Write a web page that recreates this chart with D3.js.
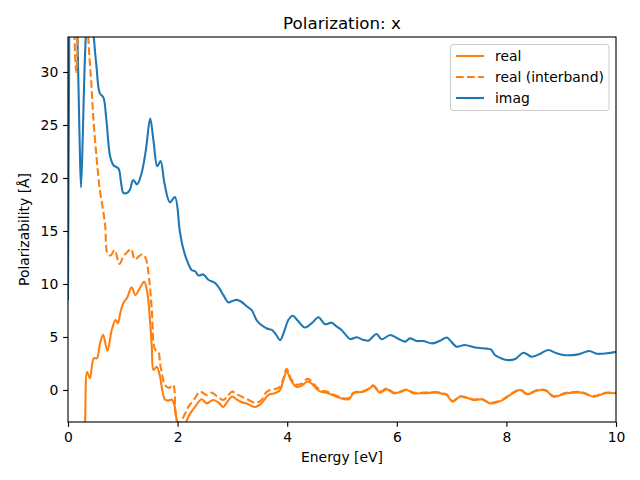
<!DOCTYPE html>
<html><head><meta charset="utf-8">
<script src="https://cdn.jsdelivr.net/npm/d3@7/dist/d3.min.js"></script>
<style>body{margin:0;background:#fff;}svg{display:block;font-family:"DejaVu Sans",sans-serif;}</style>
</head><body><svg id="c" width="640" height="480"></svg>
<script>
const xTicks = [0, 2, 4, 6, 8, 10];
const yTicks = [0, 5, 10, 15, 20, 25, 30];
const seriesNames = ["real", "real (interband)", "imag"];

const imagX = [0, 0.02, 0.05, 0.12, 0.17, 0.21, 0.237, 0.27, 0.30, 0.34, 0.40, 0.46, 0.52, 0.58, 0.645, 0.70, 0.77, 0.83, 0.92, 0.97, 1.01, 1.08, 1.13, 1.19, 1.26, 1.34, 1.42, 1.50, 1.56, 1.63, 1.69, 1.76, 1.86, 1.95, 2.04, 2.10, 2.18, 2.26, 2.32, 2.38, 2.47, 2.56, 2.68, 2.76, 2.83, 2.93, 3.00, 3.08, 3.17, 3.26, 3.35, 3.44, 3.50, 3.63, 3.72, 3.80, 3.87, 3.95, 4.02, 4.10, 4.20, 4.32, 4.45, 4.57, 4.69, 4.81, 4.90, 4.99, 5.07, 5.15, 5.27, 5.38, 5.48, 5.63, 5.72, 5.88, 6.00, 6.15, 6.24, 6.36, 6.48, 6.65, 6.79, 6.91, 6.97, 7.09, 7.24, 7.43, 7.64, 7.72, 7.79, 7.90, 8.00, 8.16, 8.31, 8.46, 8.61, 8.76, 8.90, 9.04, 9.31, 9.51, 9.65, 9.83, 10.0];
const imagY = [8.5, 30, 45, 48, 34, 24, 19.1, 24, 30, 35, 39, 34, 30.5, 28.0, 27.6, 25.5, 22.0, 21.2, 20.9, 19.5, 18.6, 18.6, 18.9, 19.8, 19.4, 20.4, 22.6, 25.6, 23.5, 21.1, 21.6, 19.5, 17.7, 18.2, 15.0, 13.4, 12.1, 11.3, 11.2, 10.8, 10.9, 10.4, 10.1, 9.6, 9.0, 8.25, 8.4, 8.5, 8.3, 7.9, 7.55, 6.6, 6.25, 5.8, 5.66, 5.2, 4.7, 5.6, 6.6, 7.0, 6.5, 5.9, 6.3, 6.86, 6.2, 6.35, 6.0, 5.66, 5.2, 4.8, 4.97, 4.75, 4.65, 5.28, 4.78, 5.19, 4.9, 4.56, 4.87, 4.62, 4.62, 4.4, 4.65, 4.95, 4.7, 4.09, 4.25, 4.0, 3.9, 3.8, 3.3, 3.0, 2.83, 2.92, 3.52, 3.14, 3.4, 3.77, 3.5, 3.3, 3.36, 3.68, 3.42, 3.46, 3.6];

const realX = [0.26, 0.31, 0.35, 0.40, 0.47, 0.53, 0.58, 0.64, 0.72, 0.80, 0.87, 0.91, 0.96, 1.02, 1.08, 1.16, 1.23, 1.31, 1.39, 1.45, 1.50, 1.53, 1.56, 1.62, 1.68, 1.72, 1.77, 1.83, 1.89, 1.94, 1.99, 2.06, 2.13, 2.22, 2.32, 2.44, 2.53, 2.65, 2.75, 2.83, 2.91, 2.99, 3.08, 3.17, 3.27, 3.41, 3.52, 3.66, 3.78, 3.87, 3.93, 3.99, 4.08, 4.17, 4.26, 4.37, 4.45, 4.54, 4.63, 4.72, 4.81, 4.90, 5.05, 5.13, 5.21, 5.39, 5.48, 5.57, 5.69, 5.82, 5.94, 6.06, 6.18, 6.30, 6.50, 6.73, 6.85, 6.91, 7.02, 7.15, 7.28, 7.40, 7.55, 7.70, 7.91, 8.07, 8.25, 8.38, 8.55, 8.72, 8.86, 9.10, 9.37, 9.59, 9.80, 10.0];
const realY = [-12, -3.5, 1.7, 1.1, 3.0, 3.0, 4.3, 5.2, 3.7, 5.7, 6.6, 6.3, 7.4, 8.3, 8.7, 9.7, 8.96, 9.6, 10.2, 9.1, 6.3, 4.0, 1.9, 2.2, 1.25, 0.0, -0.9, -1.0, -0.9, -1.4, -3.0, -4.0, -3.3, -2.3, -1.57, -0.88, -1.26, -0.94, -1.2, -1.6, -1.1, -0.63, -0.9, -1.16, -1.3, -1.6, -1.3, -0.47, -0.3, 0.0, 0.9, 1.73, 0.8, 0.3, 0.4, 0.8, 0.6, 0.07, -0.2, -0.25, -0.45, -0.63, -0.88, -0.85, -0.31, -0.16, 0.05, 0.38, -0.25, 0.07, -0.31, -0.2, 0.0, -0.3, -0.3, -0.25, -0.38, -0.47, -1.1, -0.63, -0.75, -0.94, -0.88, -1.26, -1.0, -0.47, 0.0, -0.41, -0.06, -0.06, -0.63, -0.31, -0.25, -0.63, -0.31, -0.31];

const interX = [0.10, 0.13, 0.15, 0.17, 0.20, 0.26, 0.33, 0.37, 0.43, 0.46, 0.52, 0.58, 0.64, 0.68, 0.72, 0.78, 0.85, 0.94, 1.01, 1.08, 1.15, 1.22, 1.29, 1.36, 1.42, 1.48, 1.53, 1.59, 1.65, 1.68, 1.72, 1.77, 1.85, 1.92, 1.98, 2.04, 2.12, 2.20, 2.30, 2.41, 2.53, 2.62, 2.72, 2.83, 2.91, 2.99, 3.08, 3.17, 3.28, 3.41, 3.52, 3.63, 3.78, 3.87, 3.93, 3.99, 4.08, 4.17, 4.26, 4.37, 4.45, 4.54, 4.63, 4.72, 4.81, 4.90, 5.05, 5.13, 5.21, 5.39, 5.48, 5.57, 5.69, 5.82, 5.94, 6.06, 6.18, 6.30, 6.50, 6.73, 6.85, 6.91, 7.02, 7.15, 7.28, 7.40, 7.55, 7.70, 7.91, 8.07, 8.25, 8.38, 8.55, 8.72, 8.86, 9.10, 9.37, 9.59, 9.80, 10.0];
const interY = [40, 31.5, 30.0, 31.5, 40, 48, 42, 33.3, 28.6, 25.8, 22.0, 18.9, 17.0, 15.4, 12.9, 12.7, 13.2, 11.9, 12.6, 13.0, 13.3, 12.3, 12.6, 12.8, 12.4, 10.5, 7.5, 3.8, 3.6, 2.5, 1.4, 0.47, 0.2, 0.47, -2.8, -3.1, -2.4, -1.57, -0.9, -0.16, -0.47, -0.25, -0.6, -0.94, -0.6, -0.16, -0.4, -0.63, -0.9, -1.2, -1.0, -0.16, 0.1, 0.3, 1.1, 2.0, 0.95, 0.5, 0.6, 1.05, 0.8, 0.25, -0.05, -0.15, -0.35, -0.55, -0.8, -0.75, -0.25, -0.1, 0.1, 0.45, -0.15, 0.15, -0.25, -0.15, 0.05, -0.25, -0.25, -0.2, -0.33, -0.42, -1.05, -0.6, -0.7, -0.9, -0.85, -1.2, -0.95, -0.42, 0.05, -0.37, -0.02, -0.02, -0.58, -0.27, -0.2, -0.58, -0.27, -0.27];

const svg = d3.select("#c");
const L = 68, R = 616, T = 37, B = 422;
const LW = 2.08, DASH = "7.7,3.33";
const x = d3.scaleLinear().domain([0, 10]).range([L, R]);
const y = d3.scaleLinear().domain([-3.02, 33.3]).range([B, T]);

svg.append("defs").append("clipPath").attr("id", "clip")
  .append("rect").attr("x", L).attr("y", T).attr("width", R - L).attr("height", B - T);

const line = d3.line().x(d => x(d[0])).y(d => y(d[1])).curve(d3.curveCatmullRom.alpha(0.5));
const g = svg.append("g").attr("clip-path", "url(#clip)");
g.append("path").datum(d3.zip(imagX, imagY)).attr("d", line)
  .attr("fill", "none").attr("stroke", "#1f77b4").attr("stroke-width", LW);
g.append("path").datum(d3.zip(realX, realY)).attr("d", line)
  .attr("fill", "none").attr("stroke", "#ff7f0e").attr("stroke-width", LW);
g.append("path").datum(d3.zip(interX, interY)).attr("d", line)
  .attr("fill", "none").attr("stroke", "#ff7f0e").attr("stroke-width", LW).attr("stroke-dasharray", DASH);

const xa = svg.append("g").attr("transform", `translate(0,${B})`)
  .call(d3.axisBottom(x).tickValues(xTicks).tickSize(4.86).tickPadding(4.86).tickFormat(d3.format("d")));
const ya = svg.append("g").attr("transform", `translate(${L},0)`)
  .call(d3.axisLeft(y).tickValues(yTicks).tickSize(4.86).tickPadding(4.86).tickFormat(d3.format("d")));
[xa, ya].forEach(a => {
  a.select(".domain").remove();
  a.selectAll("line").attr("stroke", "#000").attr("stroke-width", 1.11);
  a.selectAll("text").attr("font-size", "13.9px").attr("fill", "#000").attr("font-family", "DejaVu Sans");
});

svg.append("rect").attr("x", L).attr("y", T).attr("width", R - L).attr("height", B - T)
  .attr("fill", "none").attr("stroke", "#000").attr("stroke-width", 1.11);

svg.append("text").attr("x", (L + R) / 2).attr("y", 29).attr("text-anchor", "middle")
  .attr("font-size", "16.7px").text("Polarization: x");
svg.append("text").attr("x", (L + R) / 2).attr("y", 462).attr("text-anchor", "middle")
  .attr("font-size", "13.9px").text("Energy [eV]");
svg.append("text").attr("transform", `translate(29,${(T + B) / 2}) rotate(-90)`).attr("text-anchor", "middle")
  .attr("font-size", "13.9px").text("Polarizability [Å]");

const lg = svg.append("g");
lg.append("rect").attr("x", 450.5).attr("y", 44.5).attr("width", 158.5).attr("height", 66)
  .attr("rx", 2.5).attr("fill", "#fff").attr("fill-opacity", 0.8).attr("stroke", "#ccc").attr("stroke-width", 1);
const styles = [{c: "#ff7f0e", d: null}, {c: "#ff7f0e", d: DASH}, {c: "#1f77b4", d: null}];
seriesNames.forEach((n, i) => {
  const yy = 56 + i * 21;
  const l = lg.append("line").attr("x1", 456).attr("x2", 484).attr("y1", yy).attr("y2", yy)
    .attr("stroke", styles[i].c).attr("stroke-width", LW);
  if (styles[i].d) l.attr("stroke-dasharray", styles[i].d);
  lg.append("text").attr("x", 495).attr("y", yy + 5).attr("font-size", "13.9px").text(n);
});
</script></body></html>
